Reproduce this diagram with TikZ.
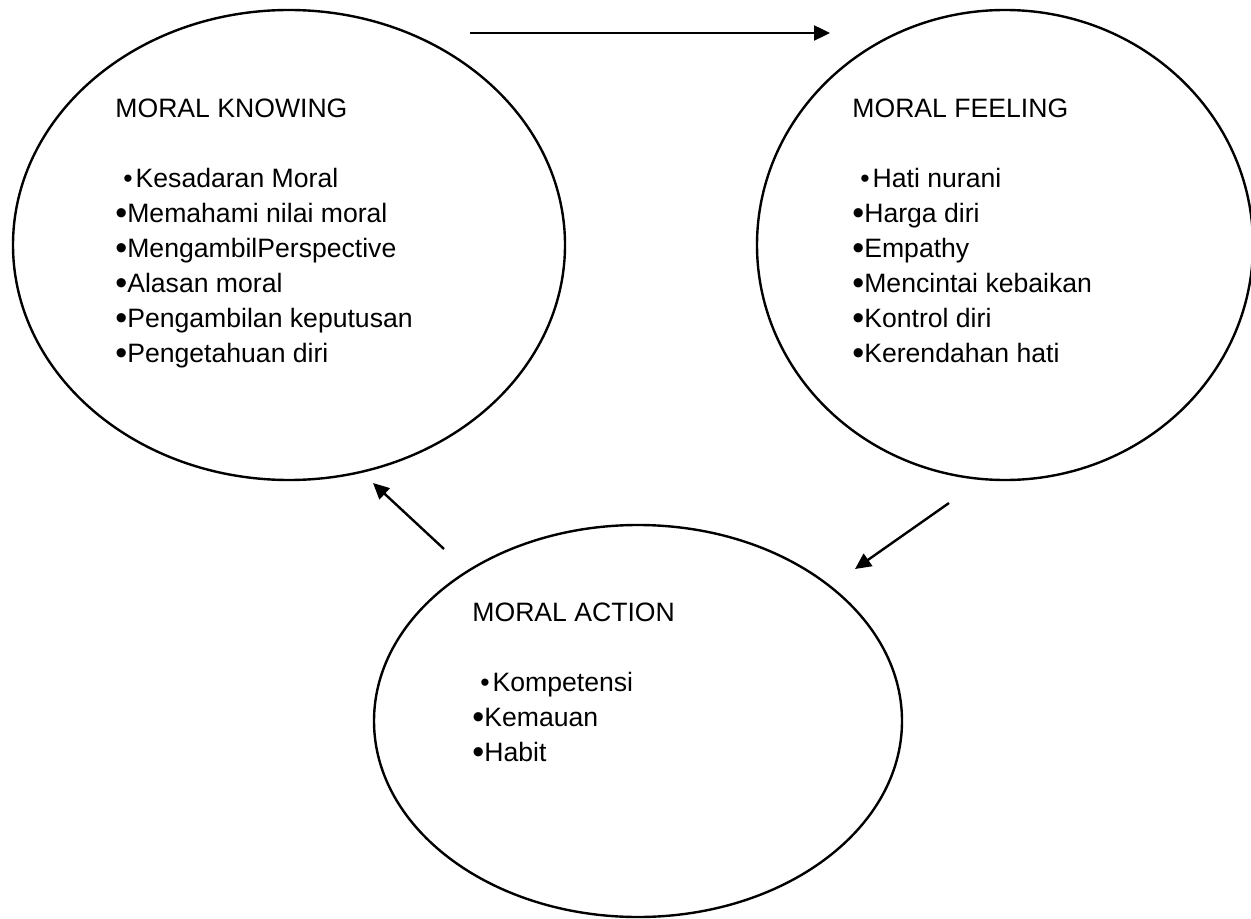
\documentclass[tikz,border=0pt]{standalone}
\usepackage{fontspec}
\setmainfont{Liberation Sans}
\usepackage{tikz}
\usetikzlibrary{shapes.geometric, arrows.meta}
\tikzset{
    bubble/.style={ellipse, draw=black, line width=1.2pt, inner sep=0pt},
    body/.style={align=left, anchor=north west, inner sep=0pt, font=\fontsize{13.3}{17.5}\selectfont},
    arrow/.style={-{Triangle[length=8pt, width=7.5pt]}, line width=1.2pt}
}
\newcommand{\firstdot}{\hspace{4pt}\textbullet\hspace{1.5pt}}
\newcommand{\itemdot}{{\fontsize{17}{17}\selectfont\raisebox{-0.8pt}{\textbullet}}}

\begin{document}
\begin{tikzpicture}[x=0.5pt, y=-0.5pt]
        \useasboundingbox (0,0) rectangle (1251,919);

        % Circles
        \node[bubble, minimum width=276pt, minimum height=235pt] (knowing) at (289,245) {};
        \node[bubble, minimum width=248pt, minimum height=235pt] (feeling) at (1005,245) {};
        \node[bubble, minimum width=264pt, minimum height=196pt] (action) at (638,721) {};

        % Texts
        \node[body] (knowingtxt) at (115,99) {MORAL KNOWING\\[17.5pt]
            \firstdot Kesadaran Moral\\
            \itemdot Memahami nilai moral\\
            \itemdot MengambilPerspective\\
            \itemdot Alasan moral\\
            \itemdot Pengambilan keputusan\\
            \itemdot Pengetahuan diri};
        \node[body] (feelingtxt) at (852,99) {MORAL FEELING\\[17.5pt]
            \firstdot Hati nurani\\
            \itemdot Harga diri\\
            \itemdot Empathy\\
            \itemdot Mencintai kebaikan\\
            \itemdot Kontrol diri\\
            \itemdot Kerendahan hati};
        \node[body] (actiontxt) at (472,603) {MORAL ACTION\\[17.5pt]
            \firstdot Kompetensi\\
            \itemdot Kemauan\\
            \itemdot Habit};

        % Arrow ends
        \coordinate (kf1) at (470,33);
        \coordinate (kf2) at (830,33);
        \coordinate (fa1) at (949,503);
        \coordinate (fa2) at (855,569);
        \coordinate (ak1) at (444,549);
        \coordinate (ak2) at (373,483);

        % Connections
        \draw[arrow] (kf1) -- (kf2);
        \draw[arrow] (fa1) -- (fa2);
        \draw[arrow] (ak1) -- (ak2);
\end{tikzpicture}
\end{document}
